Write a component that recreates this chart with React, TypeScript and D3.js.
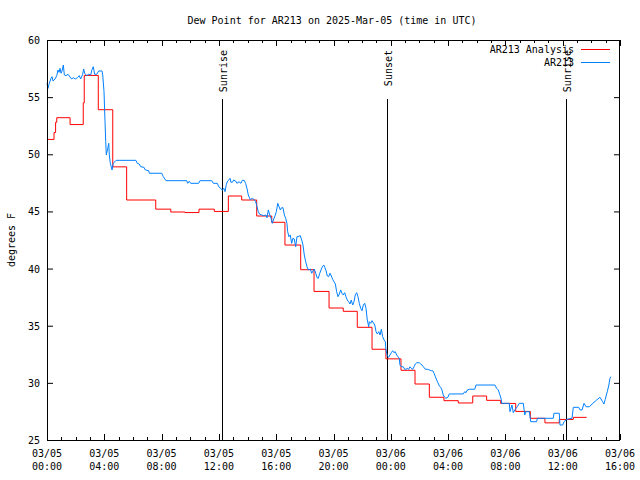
import React from "react";
import * as d3 from "d3";

// Hours since 2025-03-05 00:00 UTC
const analysisTimes = [0, 0.49, 0.6, 0.68, 1.61, 2.53, 2.6, 3.58, 4.59, 5.56, 7.59, 8.64, 9.63, 10.61, 11.68, 12.66, 13.59, 14.64, 15.69, 16.61, 17.71, 18.64, 19.69, 20.68, 21.66, 22.69, 23.66, 24.71, 25.69, 26.69, 27.71, 28.71, 29.72, 30.69, 31.67, 32.72, 33.74, 34.76, 35.76, 36.74, 37.67];
const analysisValues = [51.3, 51.9, 52.8, 53.2, 52.6, 54.5, 56.9, 53.9, 48.9, 46.0, 45.2, 44.95, 44.9, 45.2, 45.0, 46.35, 46.0, 44.6, 44.05, 42.06, 39.9, 38.0, 36.55, 36.26, 34.86, 32.94, 32.1, 31.1, 29.9, 28.74, 28.44, 28.24, 28.85, 28.47, 28.2, 27.5, 26.9, 26.5, 26.8, 26.98, 26.98];

const observed: [number, number][] = [[0,56.21],[0.07,55.77],[0.14,56.12],[0.28,56.65],[0.35,56.79],[0.42,56.41],[0.56,56.59],[0.68,56.88],[0.77,57.38],[0.84,57.17],[0.91,57.52],[0.98,57.09],[1.05,57.29],[1.14,57.81],[1.21,56.94],[1.33,56.88],[1.47,57.0],[1.61,56.76],[1.72,56.59],[1.84,56.70],[1.98,56.59],[2.12,56.70],[2.25,56.88],[2.35,56.59],[2.49,57.0],[2.56,57.46],[2.63,57.09],[2.77,56.88],[2.91,57.0],[3.05,56.94],[3.14,57.40],[3.23,57.66],[3.33,57.0],[3.47,57.0],[3.61,57.29],[3.84,57.29],[3.89,56.94],[3.98,55.48],[4.05,52.85],[4.10,51.10],[4.14,49.94],[4.24,50.52],[4.31,50.96],[4.35,49.94],[4.42,49.21],[4.54,48.63],[4.63,49.21],[4.82,49.47],[6.21,49.47],[6.30,49.21],[6.44,49.15],[6.54,48.91],[6.77,48.86],[6.86,48.63],[7.10,48.56],[7.14,48.34],[8.01,48.34],[8.12,48.04],[8.31,47.69],[9.75,47.69],[9.82,47.46],[9.93,47.64],[10.03,47.46],[10.59,47.46],[10.68,47.69],[11.50,47.69],[11.61,47.46],[11.89,47.46],[11.99,47.16],[12.13,47.02],[12.24,46.85],[12.34,47.02],[12.43,46.73],[12.52,47.37],[12.61,47.66],[12.71,47.78],[12.78,47.90],[12.84,47.55],[12.94,47.55],[13.03,47.75],[13.17,47.66],[13.26,47.46],[13.40,47.60],[13.54,47.46],[13.63,47.72],[13.77,47.72],[13.87,47.43],[13.96,47.02],[14.05,46.44],[14.19,46.03],[14.33,46.15],[14.47,46.03],[14.57,45.85],[14.66,45.41],[14.75,44.98],[14.85,44.75],[14.99,44.69],[15.13,44.63],[15.27,44.69],[15.36,44.45],[15.45,45.13],[15.55,44.69],[15.64,44.40],[15.73,43.96],[15.83,44.34],[15.92,44.63],[16.01,44.98],[16.11,45.71],[16.20,45.41],[16.29,45.13],[16.38,45.33],[16.47,45.33],[16.57,44.69],[16.66,44.40],[16.75,43.96],[16.80,43.23],[16.89,42.79],[16.98,42.94],[17.08,42.21],[17.17,42.65],[17.26,42.59],[17.36,41.91],[17.45,42.79],[17.54,42.79],[17.68,42.88],[17.78,42.50],[17.87,42.06],[17.96,41.19],[18.06,40.60],[18.15,40.16],[18.24,39.88],[18.38,39.96],[18.48,39.59],[18.57,39.79],[18.66,39.96],[18.76,39.59],[18.85,39.20],[18.94,39.15],[19.04,39.59],[19.13,39.88],[19.22,40.16],[19.32,40.31],[19.39,40.11],[19.48,39.81],[19.57,39.35],[19.66,39.29],[19.76,39.59],[19.85,39.35],[19.94,39.06],[20.03,38.85],[20.13,38.65],[20.22,37.98],[20.31,37.54],[20.41,37.78],[20.50,38.13],[20.59,37.84],[20.68,37.69],[20.78,37.89],[20.87,37.54],[20.96,37.25],[21.06,37.10],[21.15,36.90],[21.24,37.25],[21.34,36.81],[21.43,37.10],[21.52,37.69],[21.62,37.89],[21.71,37.54],[21.80,36.96],[21.90,36.52],[21.99,36.31],[22.08,36.81],[22.18,36.96],[22.27,36.52],[22.32,35.94],[22.36,35.50],[22.46,34.91],[22.50,35.35],[22.60,35.21],[22.69,35.44],[22.78,35.26],[22.88,35.06],[22.97,34.48],[23.06,34.28],[23.16,34.48],[23.25,34.19],[23.34,34.69],[23.43,34.04],[23.53,33.75],[23.62,33.60],[23.66,32.88],[23.76,32.35],[23.85,32.24],[23.94,32.44],[24.04,32.64],[24.13,32.81],[24.22,32.64],[24.31,32.73],[24.41,32.44],[24.50,32.29],[24.59,32.15],[24.64,31.56],[24.73,31.41],[24.87,31.41],[24.97,31.19],[25.06,31.19],[25.15,31.27],[25.25,31.19],[25.34,31.41],[25.43,31.27],[25.53,31.19],[25.62,31.41],[25.71,31.65],[25.81,31.76],[25.99,31.76],[26.09,31.65],[26.18,31.56],[26.27,31.41],[26.41,31.19],[26.55,31.19],[26.69,31.13],[26.83,31.06],[26.93,31.06],[27.02,30.84],[27.11,30.54],[27.20,30.25],[27.29,30.01],[27.39,29.73],[27.48,29.61],[27.57,29.38],[27.66,28.94],[27.76,28.74],[27.85,28.65],[27.99,28.74],[28.08,29.03],[29.06,29.03],[29.16,29.23],[29.25,29.14],[29.34,29.38],[29.48,29.44],[29.86,29.44],[29.95,29.81],[31.27,29.81],[31.39,29.52],[31.50,29.38],[31.62,28.94],[31.71,28.56],[31.74,28.21],[32.27,28.21],[32.32,27.48],[32.46,28.06],[32.55,27.39],[32.69,27.69],[32.83,27.91],[32.97,28.21],[33.25,28.21],[33.35,27.19],[33.44,27.48],[33.67,27.48],[33.77,26.60],[34.18,26.60],[34.23,26.90],[35.34,26.90],[35.39,27.34],[35.76,27.34],[35.81,26.31],[36.0,26.31],[36.09,26.60],[36.28,26.81],[36.65,26.90],[36.74,27.86],[37.12,27.86],[37.21,27.63],[37.35,27.63],[37.49,28.21],[37.63,27.91],[37.86,27.91],[38.05,28.15],[38.37,28.50],[38.60,28.74],[38.79,28.35],[38.88,28.15],[38.97,28.56],[39.11,29.23],[39.21,29.73],[39.30,30.40],[39.37,30.54]];

const sunEvents = [
  { t: 12.24, label: "Sunrise" },
  { t: 23.75, label: "Sunset" },
  { t: 36.23, label: "Sunrise" },
];

const xMajorTicks = [0, 4, 8, 12, 16, 20, 24, 28, 32, 36, 40];
const yTicks = [25, 30, 35, 40, 45, 50, 55, 60];
const titleText = "Dew Point for AR213 on 2025-Mar-05 (time in UTC)";
const yLabel = "degrees F";
const seriesNames = ["AR213 Analysis", "AR213"];
const seriesColors = ["#ff0000", "#0080ff"];

const W = 640, H = 480;
const L = 47, R = 620, T = 40, B = 440;
const FONT = "'DejaVu Sans Mono', monospace";

export default function App() {
  const x = d3.scaleLinear().domain([0, 40]).range([L, R]);
  const y = d3.scaleLinear().domain([25, 60]).range([B, T]);

  const redPts: [number, number][] = analysisTimes.map((t, i) => [t, analysisValues[i]]);
  const redPath = d3.line<[number, number]>().x(d => x(d[0])).y(d => y(d[1])).curve(d3.curveStepAfter)(redPts) || "";
  const bluePath = d3.line<[number, number]>().x(d => x(d[0])).y(d => y(d[1]))(observed) || "";

  const minor = d3.range(0, 41, 1).filter(h => h % 4 !== 0);
  const pad = (n: number) => (n < 10 ? "0" + n : "" + n);

  return (
    <svg width={W} height={H} style={{ position: "absolute", left: 0, top: 0, background: "#fff" }} fontFamily={FONT} fontSize={10}>
      <rect x={0} y={0} width={W} height={H} fill="#fff" />
      <text x={332} y={24} textAnchor="middle">{titleText}</text>
      <text transform={`translate(15,240) rotate(-90)`} textAnchor="middle">{yLabel}</text>

      {/* y ticks */}
      {yTicks.map(v => (
        <g key={"y" + v}>
          <line x1={L} x2={L + 6} y1={y(v) + 0.5} y2={y(v) + 0.5} stroke="#000" />
          <line x1={R - 6} x2={R} y1={y(v) + 0.5} y2={y(v) + 0.5} stroke="#000" />
          <text x={40} y={y(v) + 4} textAnchor="end">{v}</text>
        </g>
      ))}
      {/* x ticks */}
      {xMajorTicks.map(h => {
        const day = 5 + Math.floor(h / 24);
        const hr = h % 24;
        const px = Math.round(x(h)) + 0.5;
        return (
          <g key={"x" + h}>
            <line x1={px} x2={px} y1={B} y2={B - 6} stroke="#000" />
            <line x1={px} x2={px} y1={T} y2={T + 6} stroke="#000" />
            <text x={x(h)} y={457} textAnchor="middle">{`03/${pad(day)}`}</text>
            <text x={x(h)} y={470} textAnchor="middle">{`${pad(hr)}:00`}</text>
          </g>
        );
      })}
      {minor.map(h => {
        const px = Math.round(x(h)) + 0.5;
        return (
          <g key={"m" + h}>
            <line x1={px} x2={px} y1={B} y2={B - 3} stroke="#000" />
            <line x1={px} x2={px} y1={T} y2={T + 3} stroke="#000" />
          </g>
        );
      })}

      {/* sunrise / sunset */}
      {sunEvents.map((e, i) => {
        const px = Math.round(x(e.t)) + 0.5;
        return (
          <g key={"s" + i}>
            <line x1={px} x2={px} y1={99} y2={B} stroke="#000" />
            <text transform={`translate(${px + 4},50) rotate(-90)`} textAnchor="end">{e.label}</text>
          </g>
        );
      })}

      <path d={redPath} fill="none" stroke={seriesColors[0]} strokeWidth={1} />
      <path d={bluePath} fill="none" stroke={seriesColors[1]} strokeWidth={1} />

      {/* legend */}
      {seriesNames.map((n, i) => (
        <g key={"l" + i}>
          <text x={574} y={53 + i * 13} textAnchor="end">{n}</text>
          <line x1={581} x2={610} y1={49.5 + i * 13} y2={49.5 + i * 13} stroke={seriesColors[i]} />
        </g>
      ))}

      <rect x={L + 0.5} y={T + 0.5} width={R - L - 1} height={B - T} fill="none" stroke="#000" />
    </svg>
  );
}
